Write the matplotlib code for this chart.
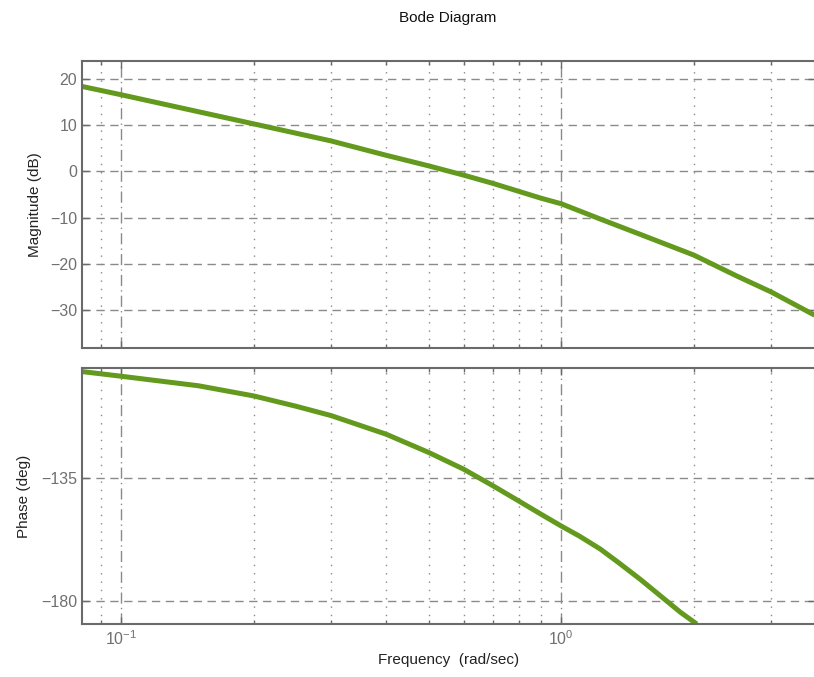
import matplotlib
matplotlib.use('Agg')
import matplotlib.pyplot as plt
from matplotlib.ticker import FixedLocator, NullFormatter, LogFormatterMathtext

# Data
freq_mag = [0.0815, 0.1, 0.2, 0.3, 0.4, 0.5, 0.6, 0.7, 0.8, 0.9, 1.0, 1.226, 1.5, 2.0, 2.5, 3.0, 3.76]
mag_db = [18.4, 16.6, 10.3, 6.6, 3.5, 1.2, -0.8, -2.6, -4.3, -5.8, -7.0, -10.3, -13.5, -18.1, -22.6, -26.1, -31.1]

freq_ph = [0.0815, 0.1, 0.15, 0.2, 0.25, 0.3, 0.4, 0.5, 0.6, 0.7, 0.8, 0.9, 1.0, 1.1, 1.226,
           1.35, 1.512, 1.864, 2.03]
phase_deg = [-96.1, -97.8, -101.3, -105.0, -108.8, -112.2, -119.0, -125.7, -131.8, -137.9, -143.4,
             -148.3, -152.6, -156.3, -161.0, -166.0, -172.1, -184.1, -188.4]

mag_ticks = [-30, -20, -10, 0, 10, 20]
phase_ticks = [-180, -135]
major_x = [0.1, 1.0]
minor_x = [0.09, 0.2, 0.3, 0.4, 0.5, 0.6, 0.7, 0.8, 0.9, 2.0, 3.0]

xlim = (0.0815, 3.76)
mag_lim = (-38.2, 23.9)
phase_lim = (-188.4, -94.8)

plt.rcParams['font.family'] = ['Liberation Sans', 'DejaVu Sans']

line_color = '#63991d'
axis_gray = '#6a6a6a'
tick_gray = '#707070'
grid_gray = '#8a8a8a'

fig = plt.figure(figsize=(8.14, 6.77), dpi=100)
ax1 = fig.add_axes([0.1007, 0.486, 0.9, 0.4239])
ax2 = fig.add_axes([0.1007, 0.0783, 0.9, 0.3781])

for ax in (ax1, ax2):
    ax.set_xscale('log')
    ax.set_xlim(*xlim)
    ax.xaxis.set_major_locator(FixedLocator(major_x))
    ax.xaxis.set_minor_locator(FixedLocator(minor_x))
    ax.xaxis.set_minor_formatter(NullFormatter())
    for s in ax.spines.values():
        s.set_color(axis_gray)
        s.set_linewidth(1.5)
    ax.tick_params(which='both', direction='in', colors=axis_gray, labelcolor=tick_gray,
                   labelsize=11.5, top=True, right=True)
    ax.tick_params(which='major', length=5, width=1)
    ax.tick_params(which='minor', length=3, width=1)
    ax.grid(True, which='major', axis='y', linestyle=(0, (6, 4)), color=grid_gray, linewidth=1)
    ax.grid(True, which='major', axis='x', linestyle=(0, (8, 3, 1, 3)), color=grid_gray, linewidth=1)
    ax.grid(True, which='minor', axis='x', linestyle=(0, (1, 5)), color=grid_gray, linewidth=1)
    ax.set_axisbelow(True)

ax1.plot(freq_mag, mag_db, color=line_color, linewidth=3.6, solid_capstyle='butt')
ax1.set_ylim(*mag_lim)
ax1.set_yticks(mag_ticks)
ax1.set_yticklabels(['\u221230', '\u221220', '\u221210', '0', '10', '20'])
ax1.xaxis.set_major_formatter(NullFormatter())
ax1.set_ylabel('Magnitude (dB)', fontsize=11, color='#222222', labelpad=6)

ax2.plot(freq_ph, phase_deg, color=line_color, linewidth=3.6, solid_capstyle='butt')
ax2.set_ylim(*phase_lim)
ax2.set_yticks(phase_ticks)
ax2.set_yticklabels(['\u2212180', '\u2212135'])
ax2.xaxis.set_major_formatter(LogFormatterMathtext())
ax2.set_ylabel('Phase (deg)', fontsize=11, color='#222222', labelpad=7)
ax2.set_xlabel('Frequency  (rad/sec)', fontsize=11, color='#222222', labelpad=4)

fig.text(0.5504, 1 - 18 / 677, 'Bode Diagram', ha='center', va='center', fontsize=11, color='#111111')

fig.savefig('out.png', dpi=100)
